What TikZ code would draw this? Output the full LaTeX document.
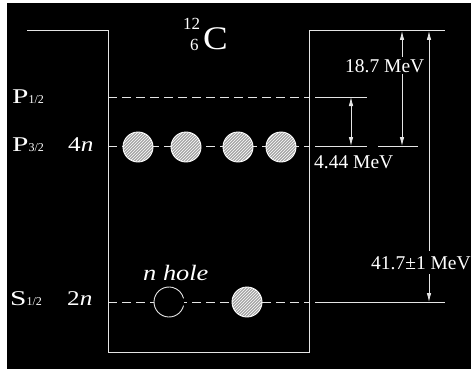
\documentclass[tikz,border=0pt]{standalone}
\usepackage{fontspec}
\setmainfont{Liberation Serif}
\usetikzlibrary{arrows.meta,patterns}
\tikzset{
  wall/.style={draw=white!90!black, line width=1pt},
  lvl/.style={wall, dash pattern=on 9pt off 5pt},
  dim/.style={draw=white!90!black, line width=0.8pt, {Latex[length=9pt,width=4.5pt]}-{Latex[length=9pt,width=4.5pt]}},
  lbl/.style={text=white, font=\fontsize{19.5}{20}\selectfont, inner sep=0pt},
  big/.style={text=white, font=\fontsize{21}{22}\selectfont, inner sep=0pt},
  ball/.style={circle, minimum size=30pt, inner sep=0pt, draw=white, line width=0.9pt,
    preaction={fill=gray!70}, pattern=north east lines, pattern color=white},
  hole/.style={circle, minimum size=30pt, inner sep=0pt, draw=none, fill=black},
}
\newcommand{\bigP}[1]{\scalebox{1.4}[1]{#1}}
\newcommand{\subfrac}[1]{{\fontsize{12}{12}\selectfont #1}}
\begin{document}
\begin{tikzpicture}[x=1pt,y=-1pt]
\useasboundingbox (0,0) rectangle (471,369);
\fill[white] (0,0) rectangle (471,369);
\fill[black] (7,3) rectangle (471,369);
% well
\coordinate (TL) at (27,31);
\coordinate (WTL) at (108,31);
\coordinate (WBL) at (108,352);
\coordinate (WBR) at (309,352);
\coordinate (WTR) at (309,31);
\coordinate (TR) at (445,31);
\draw[wall] (TL) -- (WTL) -- (WBL) -- (WBR) -- (WTR) -- (TR);
% levels
\coordinate (p1a) at (108,97);  \coordinate (p1b) at (309,97);
\coordinate (p1c) at (315,97);  \coordinate (p1d) at (367,97);
\coordinate (p3a) at (108,146); \coordinate (p3b) at (309,146);
\coordinate (p3c) at (315,146); \coordinate (p3d) at (367,146);
\coordinate (p3e) at (378,146); \coordinate (p3f) at (418,146);
\coordinate (s1a) at (108,302); \coordinate (s1b) at (309,302);
\coordinate (s1c) at (315,302); \coordinate (s1d) at (445,302);
\draw[lvl] (p1a) -- (p1b);
\draw[wall] (p1c) -- (p1d);
\draw[lvl] (p3a) -- (p3b);
\draw[wall] (p3c) -- (p3d);
\draw[wall] (p3e) -- (p3f);
\draw[lvl] (s1a) -- (s1b);
\draw[wall] (s1c) -- (s1d);
% nucleons
\node[ball] (b1) at (138,147) {};
\node[ball] (b2) at (186,147) {};
\node[ball] (b3) at (238,147) {};
\node[ball] (b4) at (281,147) {};
\node[hole] (h1) at (169,302) {};
\draw[wall, line width=0.9pt] (h1.center) ++(14:15) arc[start angle=14, end angle=346, radius=15];
\node[ball] (b5) at (247,302) {};
% dimension arrows
\coordinate (d1t) at (351,97);  \coordinate (d1b) at (351,146);
\coordinate (d2t) at (402,31);  \coordinate (d2b) at (402,146);
\coordinate (d3t) at (429,31);  \coordinate (d3b) at (429,302);
\draw[dim] (d1t) -- (d1b);
\draw[dim] (d2t) -- (d2b);
\draw[dim] (d3t) -- (d3b);
\node[lbl, fill=black, anchor=base west, inner sep=2pt] (e187) at (343,72) {18.7 MeV};
\node[lbl, anchor=base west] (e444) at (314,168) {4.44 MeV};
\node[lbl, fill=black, anchor=base west, inner ysep=5pt, inner xsep=0pt] (e417) at (371,269) {41.7±1 MeV};
% labels
\node[big, anchor=base west] (P1) at (12,103) {\bigP{P}\subfrac{1/2}};
\node[big, anchor=base west] (P3) at (12,151) {\bigP{P}\subfrac{3/2}};
\node[big, anchor=base west] (S1) at (10,305) {\bigP{S}\subfrac{1/2}};
\node[big, anchor=base west] (n4) at (68,151) {\scalebox{1.2}[1]{4\textit{n}}};
\node[big, anchor=base west] (n2) at (67,305) {\scalebox{1.2}[1]{2\textit{n}}};
\node[big, anchor=base west, font=\fontsize{22}{22}\selectfont\itshape] (nh) at (143,280) {\scalebox{1.2}[1]{n hole}};
\node[big, anchor=base west, font=\fontsize{33}{33}\selectfont] (C) at (203,49) {\scalebox{1.12}[1]{C}};
\node[big, anchor=base west, font=\fontsize{17}{17}\selectfont] (A) at (183,30) {12};
\node[big, anchor=base west, font=\fontsize{17}{17}\selectfont] (Z) at (190,51) {6};
\end{tikzpicture}
\end{document}
